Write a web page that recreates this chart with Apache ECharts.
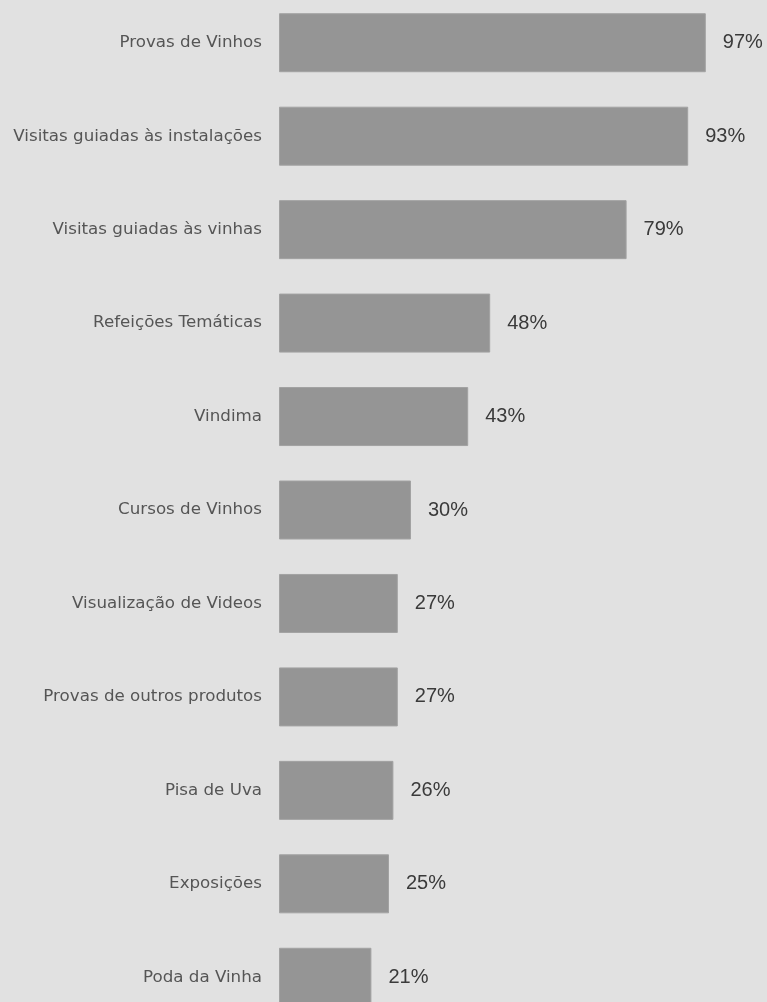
<!DOCTYPE html>
<html>
<head>
<meta charset="utf-8">
<script src="https://cdn.jsdelivr.net/npm/echarts@6/dist/echarts.min.js"></script>
<style>
  html, body { margin: 0; padding: 0; background: #e1e1e1; overflow: hidden; height: 1002px; }
  /* the plot is taller than the window: the last row runs past the bottom edge */
  #chart { position: absolute; left: 0; top: -4px; width: 767px; height: 1028px; }
</style>
</head>
<body>
<div id="chart"></div>
<script>
// Activities offered, share of respondents (%)
const categories = [
  'Provas de Vinhos',
  'Visitas guiadas às instalações',
  'Visitas guiadas às vinhas',
  'Refeições Temáticas',
  'Vindima',
  'Cursos de Vinhos',
  'Visualização de Videos',
  'Provas de outros produtos',
  'Pisa de Uva',
  'Exposições',
  'Poda da Vinha'
];
const values = [97, 93, 79, 48, 43, 30, 27, 27, 26, 25, 21];

const chart = echarts.init(document.getElementById('chart'), null, { renderer: 'canvas' });
chart.setOption({
  backgroundColor: '#e1e1e1',
  animation: false,
  grid: { left: 279, width: 440, top: 0, bottom: 0, containLabel: false },
  xAxis: {
    type: 'value', min: 0, max: 100,
    show: false
  },
  yAxis: {
    type: 'category',
    data: categories,
    inverse: true,
    axisLine: { show: false },
    axisTick: { show: false },
    splitLine: { show: false },
    axisLabel: {
      margin: 17,
      color: '#555555',
      fontFamily: 'DejaVu Sans',
      fontSize: 16.7
    }
  },
  series: [{
    type: 'bar',
    data: values,
    barWidth: 59,
    itemStyle: { color: '#959595', borderColor: '#a2a2a2', borderWidth: 1 },
    label: {
      show: true,
      position: 'right',
      distance: 17,
      formatter: '{c}%',
      color: '#3a3a3a',
      fontFamily: 'Liberation Sans',
      fontSize: 20
    }
  }]
});
</script>
</body>
</html>
